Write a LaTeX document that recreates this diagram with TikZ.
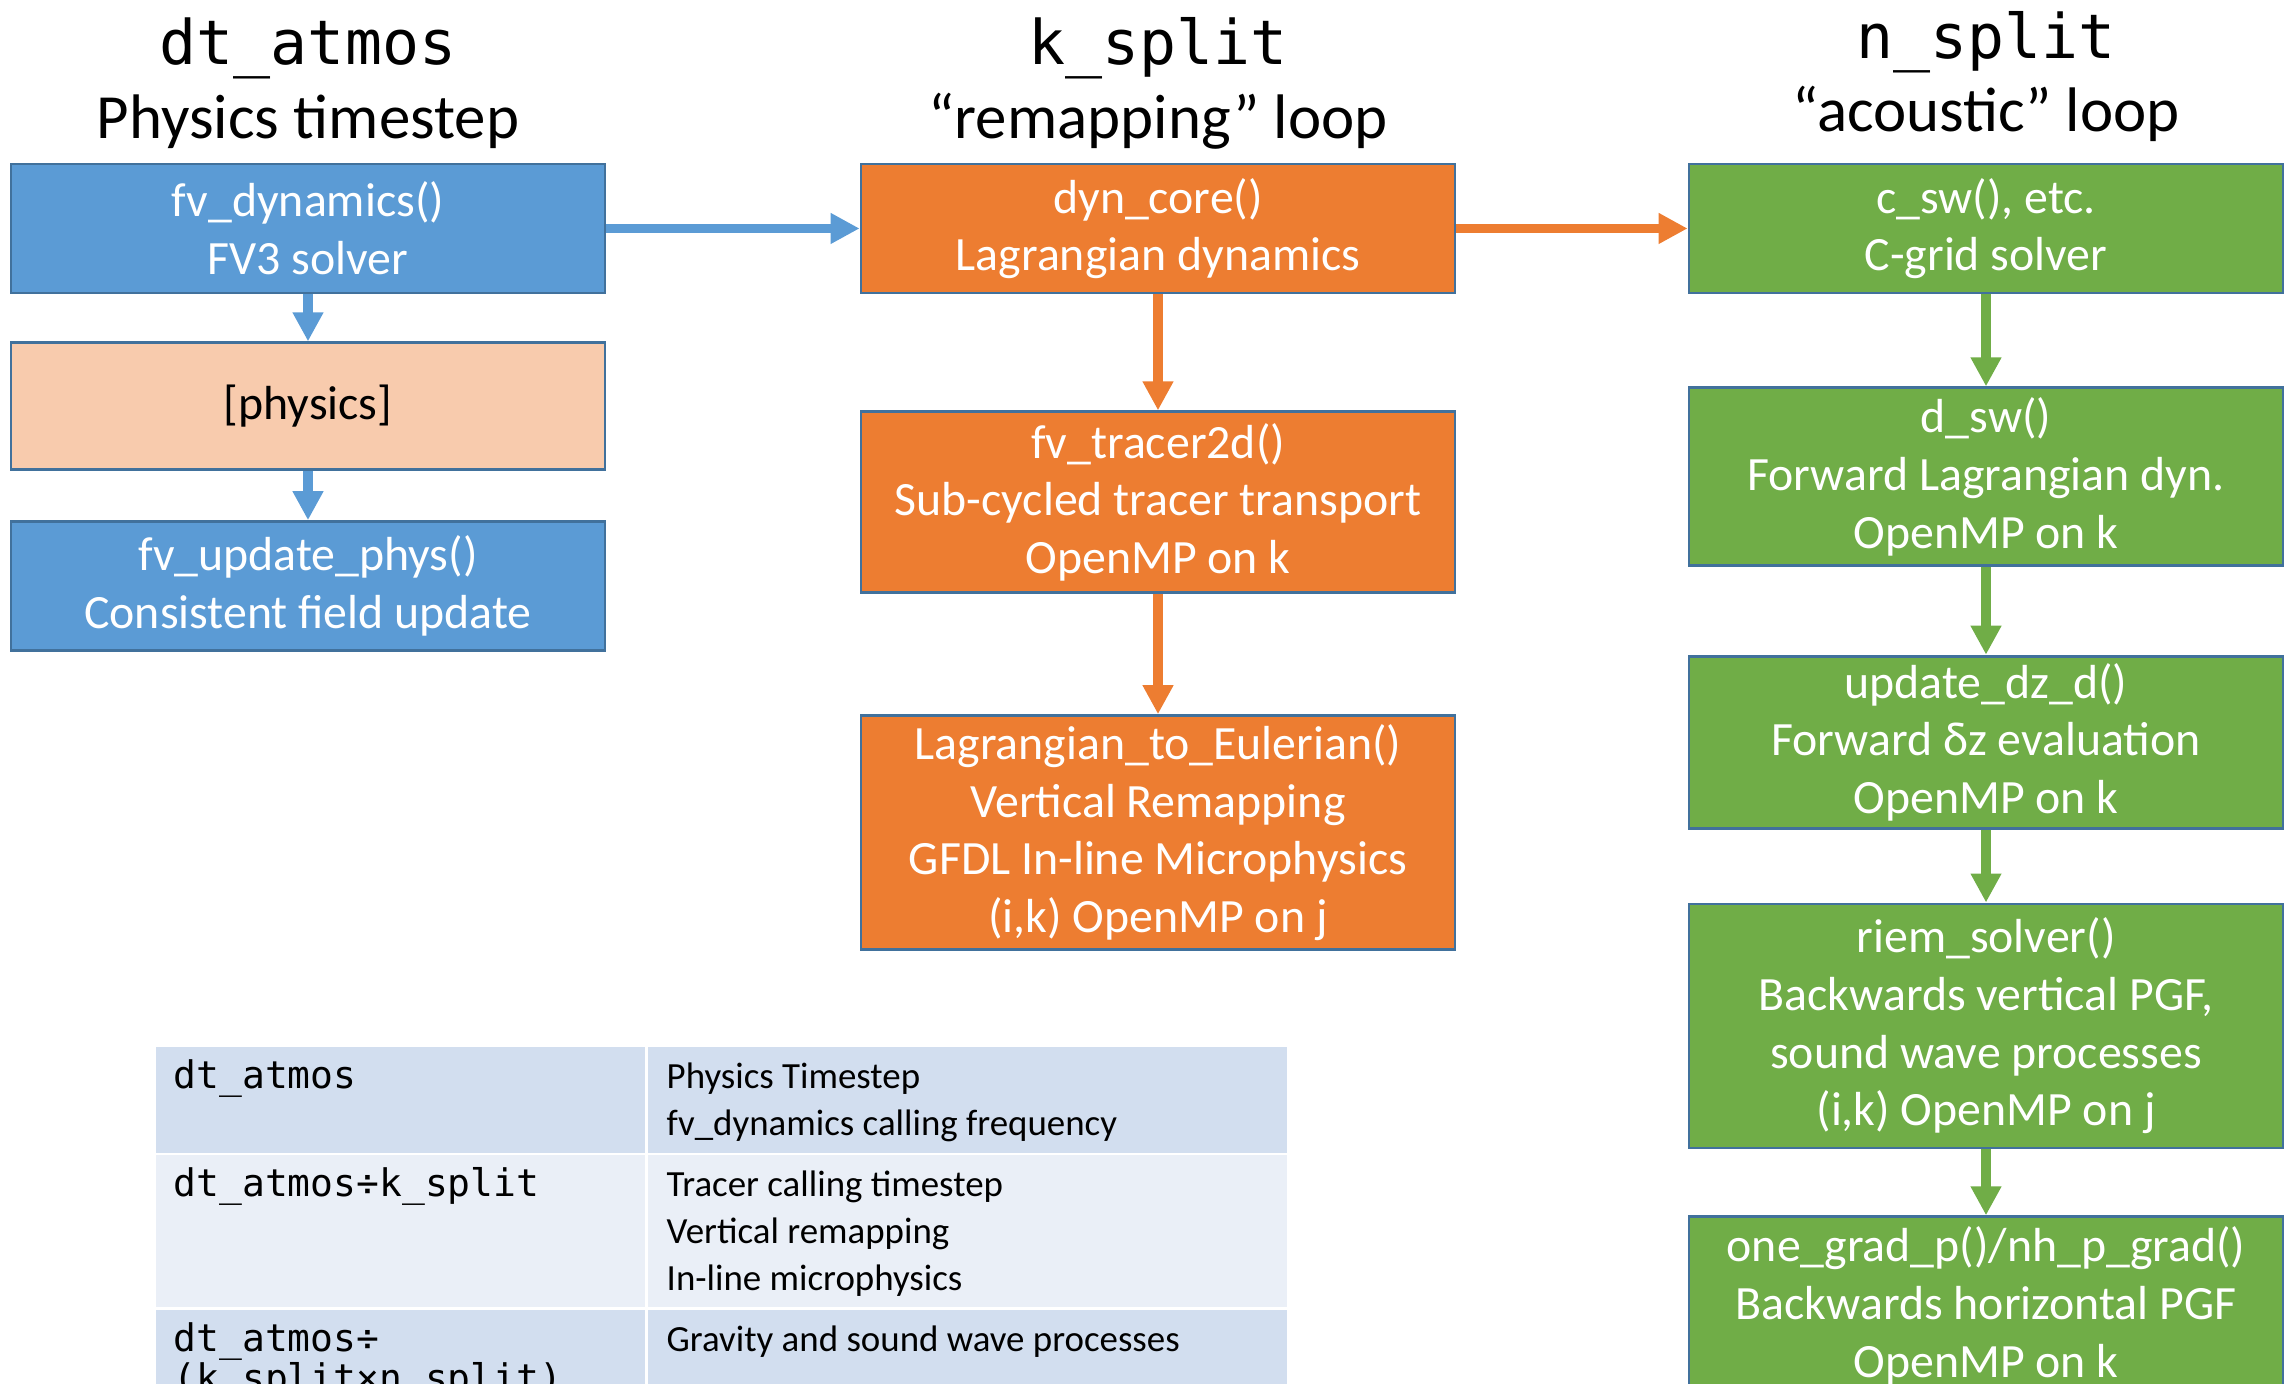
\documentclass[tikz,border=0pt]{standalone}
\usepackage{fontspec}
\setmainfont{Carlito}
\newfontfamily\codefont{DejaVu Sans Mono}
\usepackage{tikz}
\usetikzlibrary{positioning,arrows.meta}
\definecolor{fvblue}{HTML}{5B9BD5}
\definecolor{boxline}{HTML}{41719C}
\definecolor{physpeach}{HTML}{F8CBAD}
\definecolor{korange}{HTML}{ED7D31}
\definecolor{ngreen}{HTML}{70AD47}
\definecolor{rowdark}{HTML}{D2DEEF}
\definecolor{rowlight}{HTML}{EAEFF7}
\newcommand{\boxtxt}{\fontsize{13.6}{16.4}\selectfont}
\newcommand{\headtxt}{\fontsize{17.9}{21}\selectfont}
\newcommand{\headcode}{\codefont\fontsize{17.5}{21}\selectfont}
\newcommand{\tabtxt}{\fontsize{10.5}{13.4}\selectfont}
\newcommand{\tabcode}{\codefont\fontsize{10.8}{11.4}\selectfont}
\tikzset{
  box/.style={draw=boxline,line width=0.8pt,minimum width=5.94cm,align=center,inner sep=2pt,font=\boxtxt},
  bluebox/.style={box,fill=fvblue,text=white},
  peachbox/.style={box,fill=physpeach,text=black},
  orangebox/.style={box,fill=korange,text=white},
  greenbox/.style={box,fill=ngreen,text=white},
  flow/.style={line width=2.65pt,-{Triangle[width=0.29cm,length=0.29cm]}},
  head/.style={font=\headtxt,anchor=base,inner sep=0pt},
  headtt/.style={font=\headcode,anchor=base,inner sep=0pt},
  cell/.style={anchor=north west,inner sep=0pt,minimum width=#1},
  darkcell/.style={cell=#1,fill=rowdark},
  lightcell/.style={cell=#1,fill=rowlight},
  celltxt/.style={font=\tabtxt,anchor=base west,align=left,inner sep=0pt},
  celltt/.style={font=\tabcode,anchor=base west,align=left,inner sep=0pt},
}

\begin{document}
\begin{tikzpicture}
\useasboundingbox (0,0) rectangle (22.95,13.84);
\clip (0,0) rectangle (22.95,13.84);

\node[bluebox, minimum height=1.29cm] (fvdyn) at (3.08,11.555) {fv\_dynamics()\\FV3 solver};
\node[peachbox, minimum height=1.27cm, below=0.47cm of fvdyn] (phys) {[physics]};
\node[bluebox, minimum height=1.29cm, below=0.49cm of phys] (fvupd) {fv\_update\_phys()\\Consistent field update};

\node[orangebox, minimum height=1.29cm] (dyncore) at (11.58,11.555) {dyn\_core()\\Lagrangian dynamics};
\node[orangebox, minimum height=1.81cm, below=1.16cm of dyncore] (tracer) {fv\_tracer2d()\\Sub-cycled tracer transport\\OpenMP on k};
\node[orangebox, minimum height=2.34cm, below=1.20cm of tracer] (remap) {Lagrangian\_to\_Eulerian()\\Vertical Remapping\\GFDL In-line Microphysics\\(i,k) OpenMP on j};

\node[greenbox, minimum height=1.29cm] (csw) at (19.86,11.555) {c\_sw(), etc.\\C-grid solver};
\node[greenbox, minimum height=1.78cm, below=0.92cm of csw] (dsw) {d\_sw()\\Forward Lagrangian dyn.\\OpenMP on k};
\node[greenbox, minimum height=1.71cm, below=0.875cm of dsw] (dzd) {update\_dz\_d()\\Forward δz evaluation\\OpenMP on k};
\node[greenbox, minimum height=2.44cm, below=0.73cm of dzd] (riem) {riem\_solver()\\Backwards vertical PGF,\\sound wave processes\\(i,k) OpenMP on j};
\node[greenbox, minimum height=1.78cm, below=0.66cm of riem] (pgrad) {one\_grad\_p()/nh\_p\_grad()\\Backwards horizontal PGF\\OpenMP on k};

\node[head] (dtsub) at ([yshift=0.24cm]fvdyn.north) {Physics timestep};
\node[headtt] (dthead) at ([yshift=0.74cm]dtsub.base) {dt\_atmos};
\node[head] (ksub) at ([yshift=0.24cm]dyncore.north) {“remapping” loop};
\node[headtt] (khead) at ([yshift=0.74cm]ksub.base) {k\_split};
\node[head] (nsub) at ([yshift=0.31cm]csw.north) {“acoustic” loop};
\node[headtt] (nhead) at ([yshift=0.73cm]nsub.base) {n\_split};

\draw[flow, fvblue] (fvdyn) -- (phys);
\draw[flow, fvblue] (phys) -- (fvupd);
\draw[flow, fvblue] (fvdyn) -- (dyncore);
\draw[flow, korange] (dyncore) -- (csw);
\draw[flow, korange] (dyncore) -- (tracer);
\draw[flow, korange] (tracer) -- (remap);
\draw[flow, ngreen] (csw) -- (dsw);
\draw[flow, ngreen] (dsw) -- (dzd);
\draw[flow, ngreen] (dzd) -- (riem);
\draw[flow, ngreen] (riem) -- (pgrad);

\node[darkcell=4.89cm, minimum height=1.06cm] (c11) at (1.55,3.38) {};
\node[darkcell=6.39cm, minimum height=1.06cm] (c12) at (6.47,3.38) {};
\node[lightcell=4.89cm, minimum height=1.52cm] (c21) at (1.55,2.30) {};
\node[lightcell=6.39cm, minimum height=1.52cm] (c22) at (6.47,2.30) {};
\node[darkcell=4.89cm, minimum height=1.00cm] (c31) at (1.55,0.75) {};
\node[darkcell=6.39cm, minimum height=1.00cm] (c32) at (6.47,0.75) {};

\node[celltt] (t11) at ([xshift=0.18cm,yshift=-0.43cm]c11.north west) {dt\_atmos};
\node[celltxt] (t12) at ([xshift=0.19cm,yshift=-0.90cm]c12.north west) {Physics Timestep\\fv\_dynamics calling frequency};
\node[celltt] (t21) at ([xshift=0.18cm,yshift=-0.43cm]c21.north west) {dt\_atmos÷k\_split};
\node[celltxt] (t22) at ([xshift=0.19cm,yshift=-1.37cm]c22.north west) {Tracer calling timestep\\Vertical remapping\\In-line microphysics};
\node[celltt] (t31) at ([xshift=0.18cm,yshift=-0.83cm]c31.north west) {dt\_atmos÷\\(k\_split×n\_split)};
\node[celltxt] (t32) at ([xshift=0.19cm,yshift=-0.43cm]c32.north west) {Gravity and sound wave processes};
\end{tikzpicture}
\end{document}
